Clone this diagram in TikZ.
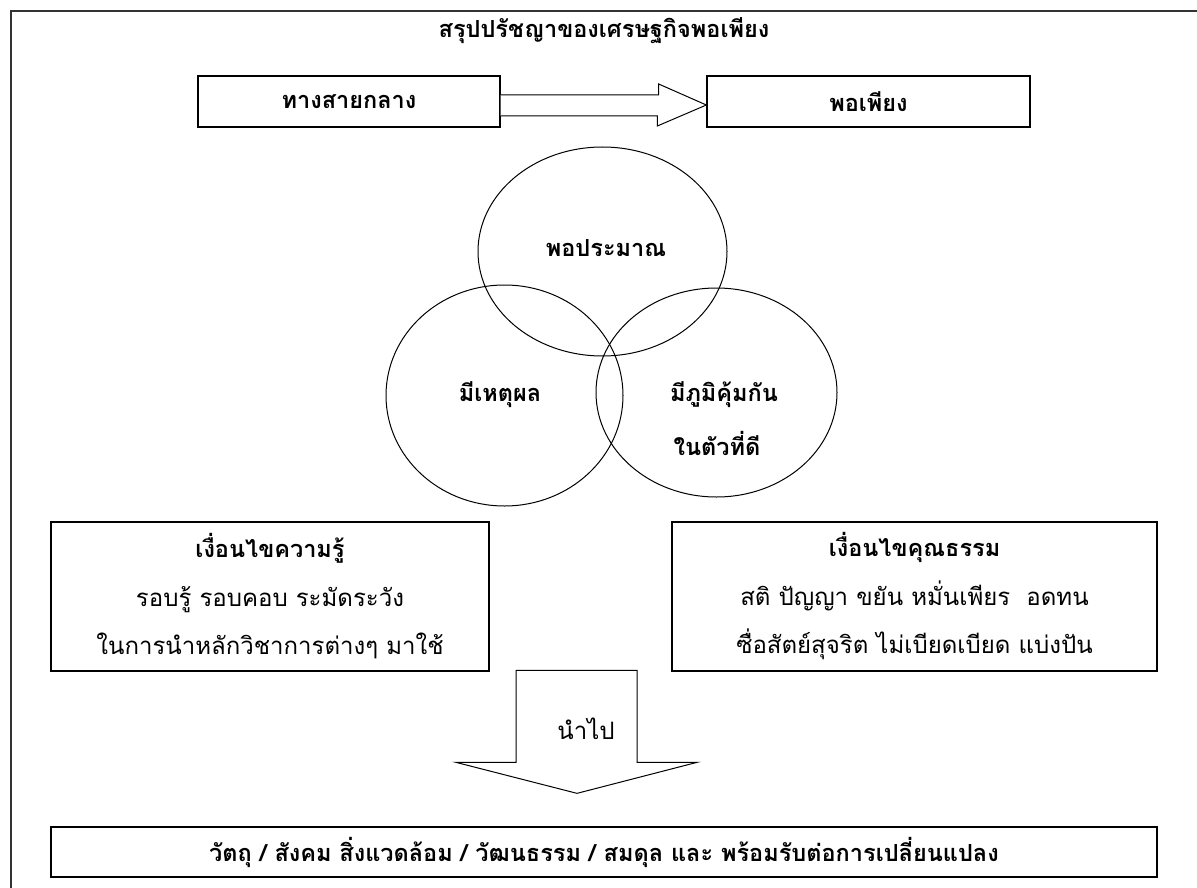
\documentclass[tikz,border=0pt]{standalone}
\usepackage{fontspec}
\newfontfamily\thai[Script=Thai]{Loma}
\usetikzlibrary{calc,shapes.geometric}
\begin{document}
\begin{tikzpicture}[x=1pt,y=-1pt,
  box/.style={draw,line width=1.3pt,inner sep=0pt},
  ring/.style={draw,ellipse,line width=1pt,inner sep=0pt},
  hollow/.style={draw,line width=1pt,fill=white,line join=miter},
  bt/.style={font={\thai\bfseries\fontsize{23.5}{28}\selectfont}},
  rt/.style={font={\thai\fontsize{24}{28}\selectfont}},
  para/.style={align=center,font={\thai\fontsize{24}{48.5}\selectfont}}]
\clip (0,0) rectangle (1197,888);
\fill[white] (0,0) rectangle (1197,888);
\draw[line width=1.6pt,black!80] (11,920) -- (11,11) -- (1230,11);
% title
\node[bt] (title) at (604,31) {สรุปปรัชญาของเศรษฐกิจพอเพียง};
% top boxes
\node[box,bt,minimum width=302pt,minimum height=51pt] (ltop) at (349,101.5) {ทางสายกลาง};
\node[box,bt,minimum width=323pt,minimum height=51pt] (rtop) at (868.5,101.5) {พอเพียง};
% hollow right arrow
\coordinate (tipA) at ($(rtop.west)+(0,3.5)$);
\draw[hollow] ($(ltop.east)+(0,-6.5)$) -- ++(158,0) -- ++(0,-11) -- (tipA)
  -- ($(tipA)+(-49,21)$) -- ++(0,-10) -- ($(ltop.east)+(0,14.5)$);
% circles
\node[ring,minimum width=249pt,minimum height=209pt] (c1) at (602.5,251.5) {};
\node[ring,minimum width=237pt,minimum height=221pt] (c2) at (504.5,395.5) {};
\node[ring,minimum width=241pt,minimum height=209pt] (c3) at (716.5,392.5) {};
\node[bt] (t1) at (606,248) {พอประมาณ};
\node[bt] (t2) at (500,395) {มีเหตุผล};
\node[bt] (t3) at (724,395) {มีภูมิคุ้มกัน};
\node[bt] (t4) at (717,443) {ในตัวที่ดี};
% lower boxes
\node[box,para,minimum width=438pt,minimum height=149pt] (lbox) at (270,596.5)
  {{\bfseries\fontsize{23.5}{48.5}\selectfont เงื่อนไขความรู้}\\รอบรู้ รอบคอบ ระมัดระวัง\\ในการนำหลักวิชาการต่างๆ มาใช้};
\node[box,para,minimum width=485pt,minimum height=149pt] (rbox) at (914.5,596.5)
  {{\bfseries\fontsize{23.5}{48.5}\selectfont เงื่อนไขคุณธรรม}\\สติ ปัญญา ขยัน หมั่นเพียร\ \ อดทน\\ซื่อสัตย์สุจริต ไม่เบียดเบียด แบ่งปัน};
% bottom box
\node[box,bt,minimum width=1106pt,minimum height=50pt] (bot) at (604,852)
  {วัตถุ / สังคม สิ่งแวดล้อม / วัฒนธรรม / สมดุล และ พร้อมรับต่อการเปลี่ยนแปลง};
% down arrow
\coordinate (tipB) at ($(bot.north)+(-27,-33)$);
\draw[hollow] ($(tipB)+(-61,-123)$) -- ++(121,0) -- ++(0,92) -- ++(60,0) -- (tipB)
  -- ($(tipB)+(-121,-31)$) -- ++(60,0) -- cycle;
\node[rt] (go) at (586,729) {นำไป};
\end{tikzpicture}
\end{document}
